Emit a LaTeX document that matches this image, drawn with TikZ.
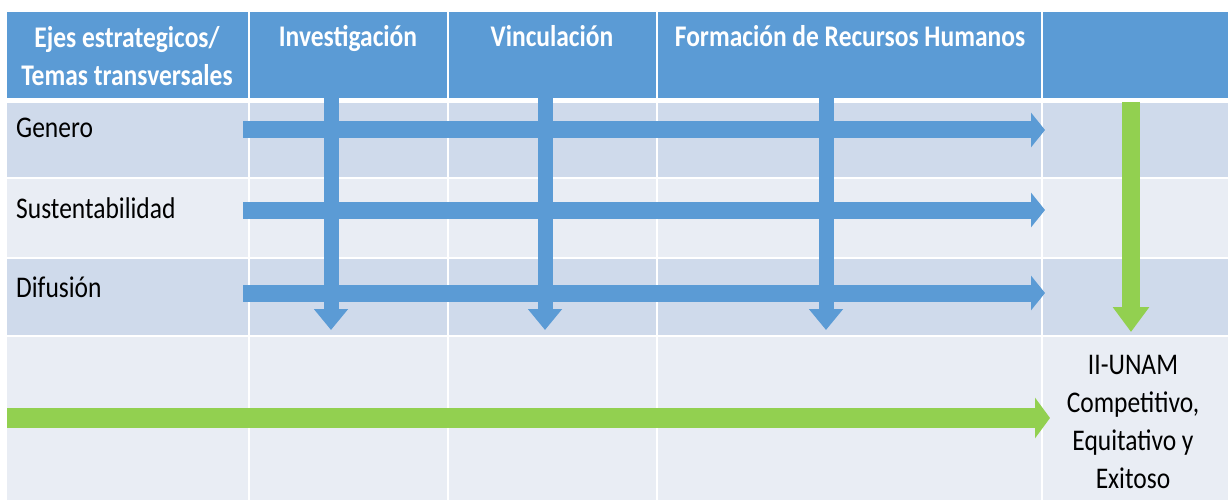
\documentclass[tikz,border=0pt]{standalone}
\usepackage{fontspec}
\setmainfont[FakeStretch=0.85]{Carlito}
\usetikzlibrary{arrows.meta}
\definecolor{hdr}{HTML}{5B9BD5}
\definecolor{rowA}{HTML}{CFDAEB}
\definecolor{rowB}{HTML}{E9EDF4}
\definecolor{arrblue}{HTML}{5B9BD5}
\definecolor{arrgreen}{HTML}{92D050}
\tikzset{
  hdrtext/.style={text=white,font=\fontsize{30}{38}\selectfont\bfseries,align=center,inner sep=0pt,anchor=base},
  bodytext/.style={text=black,font=\fontsize{30}{38}\selectfont,inner sep=0pt,anchor=base west},
  resulttext/.style={text=black,font=\fontsize{30}{38}\selectfont,align=center,inner sep=0pt,anchor=base},
  gridline/.style={white,line width=2.5pt},
  harrow/.style={arrblue,line width=17pt,-{Triangle[width=34pt,length=14pt]}},
  varrow/.style={arrblue,line width=15pt,-{Triangle[width=33pt,length=21pt]}},
  gvarrow/.style={arrgreen,line width=18pt,-{Triangle[width=35pt,length=25pt]}},
  gharrow/.style={arrgreen,line width=20pt,-{Triangle[width=40pt,length=15pt]}}
}
\begin{document}
\begin{tikzpicture}[x=1pt,y=-1pt]
\useasboundingbox (0,0) rectangle (1229,500);
% cells
\fill[hdr] (7,12) rectangle (1228,98);
\fill[rowA] (7,103) rectangle (1228,178);
\fill[rowB] (7,178) rectangle (1228,258);
\fill[rowA] (7,258) rectangle (1228,336);
\fill[rowB] (7,336) rectangle (1228,500);
% grid lines
\fill[white] (7,98) rectangle (1228,103);
\foreach \yy in {178,258,336} \draw[gridline] (7,\yy) -- (1228,\yy);
\foreach \xx in {249,448,657,1042} \draw[gridline] (\xx,12) -- (\xx,500);
% header text
\node[hdrtext] (h0) at (127,86) {Ejes estrategicos/\\Temas transversales};
\node[hdrtext] (h1) at (348,47) {Investigación};
\node[hdrtext] (h2) at (552,47) {Vinculación};
\node[hdrtext] (h3) at (850,47) {Formación de Recursos Humanos};
% row labels
\node[bodytext] (r1) at (16,138) {Genero};
\node[bodytext] (r2) at (16,218) {Sustentabilidad};
\node[bodytext] (r3) at (16,297) {Difusión};
\node[resulttext] (res) at (1133,488) {II-UNAM\\Competitivo,\\Equitativo y\\Exitoso};
% arrow coordinates
\coordinate (g1s) at (243,130); \coordinate (g1e) at (1045,130);
\coordinate (g2s) at (243,210); \coordinate (g2e) at (1045,210);
\coordinate (g3s) at (243,293); \coordinate (g3e) at (1045,293);
\coordinate (v1s) at (331,98); \coordinate (v1e) at (331,330);
\coordinate (v2s) at (545,98); \coordinate (v2e) at (545,330);
\coordinate (v3s) at (826,98); \coordinate (v3e) at (826,330);
\coordinate (gvs) at (1131,102); \coordinate (gve) at (1131,332);
\coordinate (ghs) at (7,418); \coordinate (ghe) at (1050,418);
% arrows
\draw[varrow] (v1s) -- (v1e);
\draw[varrow] (v2s) -- (v2e);
\draw[varrow] (v3s) -- (v3e);
\draw[harrow] (g1s) -- (g1e);
\draw[harrow] (g2s) -- (g2e);
\draw[harrow] (g3s) -- (g3e);
\draw[gvarrow] (gvs) -- (gve);
\draw[gharrow] (ghs) -- (ghe);
\end{tikzpicture}
\end{document}
